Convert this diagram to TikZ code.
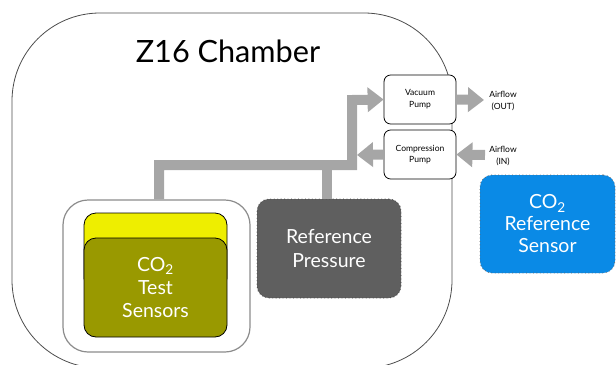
\documentclass[tikz,border=0pt]{standalone}
\usepackage{fontspec}
\setmainfont{Lato}
\usetikzlibrary{arrows.meta}
\definecolor{pipegray}{HTML}{A6A6A6}
\definecolor{olive}{HTML}{999900}
\definecolor{yel}{HTML}{EEEE00}
\definecolor{darkbox}{HTML}{5F5F5F}
\definecolor{bluebox}{HTML}{0A8AE6}
\tikzset{
  chamberbox/.style={draw=black!70, line width=0.6pt, rounded corners=66pt, inner sep=0pt},
  holder/.style={draw=black!45, line width=0.9pt, rounded corners=18.75pt, inner sep=0pt, fill=white},
  sensorbox/.style={draw=black, line width=0.6pt, rounded corners=9pt, inner sep=0pt},
  darkbox/.style={draw=black!75, dotted, line width=0.6pt, rounded corners=9pt, fill=darkbox, text=white, align=center, font=\fontsize{14.6pt}{17.3pt}\selectfont, inner sep=0pt},
  bluebox/.style={draw=black!60, dotted, line width=0.6pt, rounded corners=9pt, fill=bluebox, text=white, align=center, font=\fontsize{14.6pt}{16.5pt}\selectfont, inner sep=0pt},
  pumpbox/.style={draw=black, line width=0.6pt, rounded corners=5pt, fill=white, align=center, font=\fontsize{6.4pt}{8.8pt}\selectfont, minimum width=54pt, minimum height=36.75pt, inner sep=0pt},
  airlbl/.style={align=center, font=\fontsize{6.4pt}{8.5pt}\selectfont, inner sep=0pt},
  pipe/.style={draw=pipegray, line width=7.5pt, line join=miter},
  flow/.style={pipe, -{Triangle[length=12pt,width=18pt]}},
}
\begin{document}
\begin{tikzpicture}[x=0.75pt,y=-0.75pt]
\useasboundingbox (0,0) rectangle (616,364);
\clip (0,0) rectangle (616,364);
% chamber
\node (chamber) [chamberbox, minimum width=330pt, minimum height=266.25pt] at (232,190.5) {};
\node (title) at (228,51) {\fontsize{23pt}{27pt}\selectfont Z16 Chamber};
% junction coordinates
\coordinate (j1) at (352,165);
\coordinate (j2) at (352,100);
\coordinate (cin) at (357,155);
\coordinate (outend) at (484,100);
\coordinate (instart) at (485,155);
% boxes
\node (holder) [holder, minimum width=140.25pt, minimum height=114pt] at (156.5,276) {};
\node (refp) [darkbox, minimum width=108pt, minimum height=74.25pt] at (329,248.5) {Reference\\Pressure};
\node (vac) [pumpbox] at (420,99.5) {Vacuum\\Pump};
\node (comp) [pumpbox] at (420,154.5) {Compression\\Pump};
% pipes
\draw[flow] ([xshift=1.9pt]holder.north) |- (j1) -- (j2) -- (vac.west);
\draw[pipe] ([xshift=-1.5pt]refp.north) -- ([xshift=-1.5pt]refp.north |- j1);
\draw[flow] (comp.west) -- (cin);
\draw[flow] (vac.east) -- (outend);
\draw[flow] (instart) -- (comp.east);
% sensors
\node (yellow) [sensorbox, fill=yel, minimum width=107.25pt, minimum height=57.75pt] at (155.5,251.5) {};
\node (olive) [sensorbox, fill=olive, minimum width=107.25pt, minimum height=74.25pt, text=white, align=center, font=\fontsize{14.6pt}{17.3pt}\selectfont] at (155.5,287.5) {CO\textsubscript{2}\\Test\\Sensors};
\node (refs) [bluebox, minimum width=101.25pt, minimum height=73.5pt] at (547.5,224) {CO\textsubscript{2}\\Reference\\Sensor};
% labels
\node (outlbl) [airlbl] at (503,101) {Airflow\\(OUT)};
\node (inlbl) [airlbl] at (503,156) {Airflow\\(IN)};
\end{tikzpicture}
\end{document}
